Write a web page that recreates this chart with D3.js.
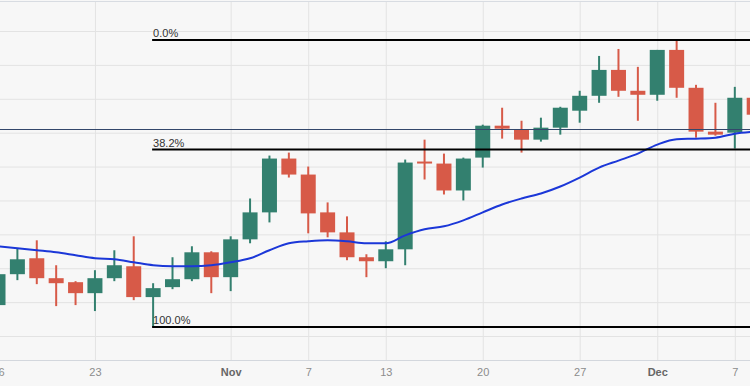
<!DOCTYPE html>
<html>
<head>
<meta charset="utf-8">
<script src="https://cdn.jsdelivr.net/npm/d3@7"></script>
<style>
body { margin: 0; background: #f7f7f7; }
svg { display: block; font-family: "Liberation Sans", Arial, sans-serif; }
</style>
</head>
<body>
<svg id="chart"></svg>
<script>
// trading days shown on the chart
var dates = ['2023-10-16','2023-10-17','2023-10-18','2023-10-19','2023-10-20',
	'2023-10-23','2023-10-24','2023-10-25','2023-10-26','2023-10-27',
	'2023-10-30','2023-10-31','2023-11-01','2023-11-02','2023-11-03',
	'2023-11-06','2023-11-07','2023-11-08','2023-11-09','2023-11-10',
	'2023-11-13','2023-11-14','2023-11-15','2023-11-16','2023-11-17',
	'2023-11-20','2023-11-21','2023-11-22','2023-11-23','2023-11-24',
	'2023-11-27','2023-11-28','2023-11-29','2023-11-30','2023-12-01',
	'2023-12-04','2023-12-05','2023-12-06','2023-12-07','2023-12-08'];
var openVals  = [21.456,21.912,22.147,21.853,21.794,21.632,21.853,22.029,21.574,21.721,
	21.838,22.235,21.868,22.426,22.824,23.618,23.382,22.824,22.529,22.162,
	22.103,22.279,23.574,23.544,23.147,23.632,24.103,24.044,23.897,24.074,
	24.324,24.544,24.926,24.618,24.559,25.221,24.662,24.015,24.000,24.515];
var highVals  = [21.971,22.294,22.412,22.044,21.809,21.971,22.265,22.471,21.779,22.162,
	22.324,22.250,22.471,23.029,23.662,23.706,23.500,22.971,22.765,22.206,
	22.397,23.603,23.897,23.691,23.632,24.118,24.368,24.176,24.221,24.382,
	24.618,25.132,25.235,24.971,25.221,25.368,24.706,24.441,24.676,24.529];
var lowVals   = [21.412,21.824,21.765,21.441,21.456,21.368,21.809,21.529,21.132,21.691,
	21.809,21.632,21.662,22.368,22.676,23.338,22.515,22.456,22.118,21.868,
	22.000,22.044,23.309,23.088,23.000,23.485,23.912,23.706,23.868,23.971,
	24.147,24.441,24.529,24.176,24.471,24.515,23.926,23.956,23.765,24.176];
var closeVals = [21.912,22.132,21.853,21.779,21.632,21.853,22.044,21.574,21.706,21.838,
	22.235,21.868,22.426,22.824,23.618,23.382,22.809,22.529,22.162,22.103,
	22.279,23.559,23.559,23.147,23.618,24.103,24.059,23.897,24.074,24.368,
	24.544,24.926,24.618,24.559,25.221,24.662,24.015,23.971,24.515,24.265];
var maVals    = [22.324,22.294,22.265,22.235,22.191,22.147,22.132,22.088,22.044,22.029,
	22.029,22.044,22.088,22.147,22.265,22.368,22.397,22.412,22.397,22.368,
	22.368,22.485,22.574,22.618,22.706,22.824,22.941,23.029,23.103,23.206,
	23.338,23.485,23.588,23.691,23.824,23.904,23.912,23.926,23.985,24.015];

var tickDates  = ['2023-10-16','2023-10-23','2023-11-01','2023-11-07','2023-11-13','2023-11-20','2023-11-27','2023-12-01','2023-12-07'];
var tickLabels = ['16','23','Nov','7','13','20','27','Dec','7'];
var monthLabels = ['Nov','Dec'];
var yGrid = [21, 21.5, 22, 22.5, 23, 23.5, 24, 24.5, 25, 25.5];
var fibLevels = [0, 0.382, 1];
var fibStart = '2023-10-26';
var lastPrice = 24.06;

var svgWidth = 750;
var svgHeight = 386;
var plotTop = 1;
var plotBottom = 360;

var candles = dates.map((d, i) => ({
	date: d, open: openVals[i], high: highVals[i], low: lowVals[i], close: closeVals[i], ma: maVals[i]
}));

var svg = d3.select('#chart')
	.attr('width', svgWidth)
	.attr('height', svgHeight);

svg.append('rect')
	.attr('width', svgWidth)
	.attr('height', svgHeight)
	.attr('fill', '#f7f7f7');

var xScale = d3.scalePoint()
	.domain(dates)
	.range([-2, 754.2]);
var yScale = d3.scaleLinear()
	.domain([21, 25.5])
	.range([336, 31]);

// grid
var yGridAxis = d3.axisLeft(yScale)
	.tickValues(yGrid)
	.tickSize(-svgWidth)
	.tickFormat('');
svg.append('g')
	.attr('class', 'grid')
	.call(yGridAxis);
var xGridAxis = d3.axisBottom(xScale)
	.tickValues(tickDates)
	.tickSize(-(plotBottom - plotTop))
	.tickFormat('');
svg.append('g')
	.attr('class', 'grid')
	.attr('transform', `translate(0,${plotBottom})`)
	.call(xGridAxis);
svg.selectAll('.grid .domain').remove();
svg.selectAll('.grid line')
	.attr('stroke', '#e3e3e3')
	.attr('stroke-width', 1);

svg.append('line')
	.attr('x1', 0).attr('x2', svgWidth)
	.attr('y1', plotTop + 0.5).attr('y2', plotTop + 0.5)
	.attr('stroke', '#d8dce2');
svg.append('line')
	.attr('x1', 0).attr('x2', svgWidth)
	.attr('y1', plotBottom + 0.5).attr('y2', plotBottom + 0.5)
	.attr('stroke', '#d3d7dd');

// x labels
var xAxis = d3.axisBottom(xScale)
	.tickValues(tickDates)
	.tickSize(0)
	.tickPadding(8)
	.tickFormat(d => tickLabels[tickDates.indexOf(d)]);
var xAxisG = svg.append('g')
	.attr('transform', `translate(0,${plotBottom})`)
	.call(xAxis);
xAxisG.select('.domain').remove();
xAxisG.selectAll('text')
	.attr('font-family', '"Liberation Sans", Arial, sans-serif')
	.attr('font-size', 11)
	.attr('fill', d => monthLabels.includes(tickLabels[tickDates.indexOf(d)]) ? '#666' : '#8c8c8c')
	.attr('font-weight', d => monthLabels.includes(tickLabels[tickDates.indexOf(d)]) ? 'bold' : 'normal');

// candles
var green = '#33806f';
var red = '#d75a48';
var bodyW = 15;
var candleG = svg.append('g')
	.selectAll('g')
	.data(candles)
	.enter()
	.append('g');
candleG.append('line')
	.attr('x1', d => xScale(d.date))
	.attr('x2', d => xScale(d.date))
	.attr('y1', d => yScale(d.high))
	.attr('y2', d => yScale(d.low))
	.attr('stroke', d => d.close >= d.open ? green : red)
	.attr('stroke-width', 2);
candleG.append('rect')
	.attr('x', d => xScale(d.date) - bodyW / 2)
	.attr('y', d => yScale(Math.max(d.open, d.close)))
	.attr('width', bodyW)
	.attr('height', d => Math.max(2, Math.abs(yScale(d.open) - yScale(d.close))))
	.attr('fill', d => d.close >= d.open ? green : red);

// moving average
var maLine = d3.line()
	.x(d => xScale(d.date))
	.y(d => yScale(d.ma))
	.curve(d3.curveMonotoneX);
svg.append('path')
	.datum(candles)
	.attr('d', maLine)
	.attr('fill', 'none')
	.attr('stroke', '#1b37d8')
	.attr('stroke-width', 2);

// last price line
svg.append('line')
	.attr('x1', 0).attr('x2', svgWidth)
	.attr('y1', Math.round(yScale(lastPrice)) + 0.5)
	.attr('y2', Math.round(yScale(lastPrice)) + 0.5)
	.attr('stroke', '#33476b')
	.attr('stroke-width', 1);

// fibonacci retracement
var hi = d3.max(highVals);
var lo = d3.min(lowVals);
var fibG = svg.append('g')
	.selectAll('g')
	.data(fibLevels)
	.enter()
	.append('g');
fibG.append('line')
	.attr('x1', xScale(fibStart) - 1)
	.attr('x2', svgWidth)
	.attr('y1', d => yScale(hi - d * (hi - lo)))
	.attr('y2', d => yScale(hi - d * (hi - lo)))
	.attr('stroke', '#000')
	.attr('stroke-width', 2);
fibG.append('text')
	.attr('x', xScale(fibStart))
	.attr('y', d => yScale(hi - d * (hi - lo)) - 3)
	.attr('font-size', 11)
	.attr('fill', '#333')
	.text(d => (d * 100).toFixed(1) + '%');
</script>
</body>
</html>
